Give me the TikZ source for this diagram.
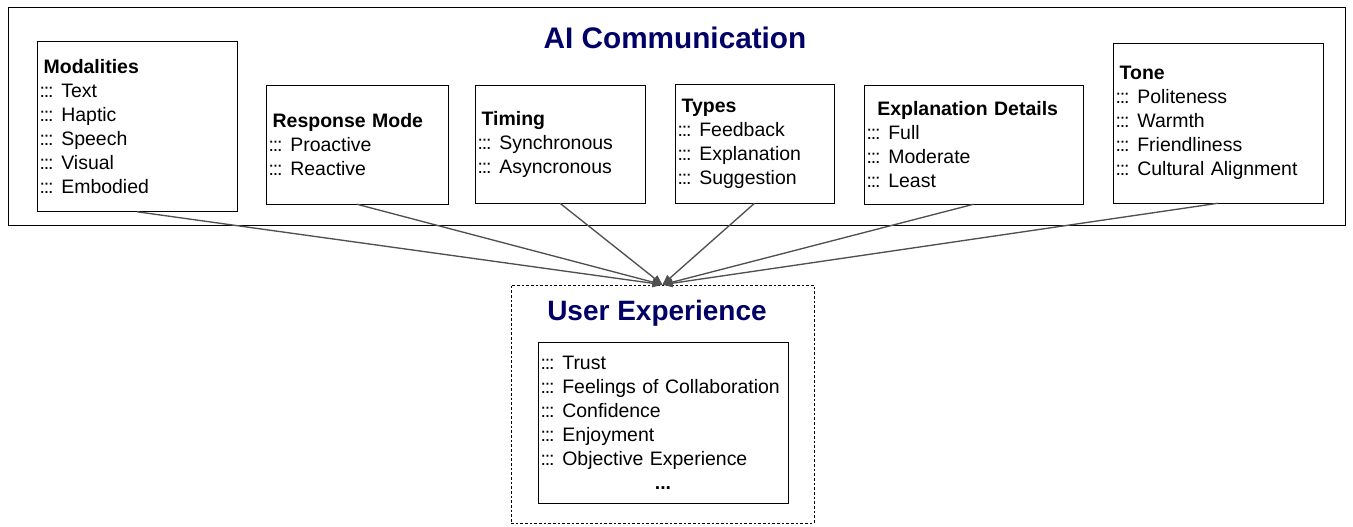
\documentclass[tikz,border=0pt]{standalone}
\usepackage{fontspec}
\setmainfont{Liberation Sans}
\usepackage{xcolor}
\usetikzlibrary{arrows.meta,positioning}

\definecolor{titlenavy}{RGB}{0,0,102}
\definecolor{linkgray}{RGB}{80,80,80}
\newcommand{\itm}{:\kern-0.9pt:\kern-0.9pt:\kern1pt\ }

\begin{document}
\begin{tikzpicture}[
  x=0.75pt, y=-0.75pt,
  catbox/.style={rectangle, draw, inner xsep=2pt, inner ysep=0pt, align=left,
    font=\fontsize{14.6}{18}\selectfont},
  title/.style={font=\fontsize{21}{24}\selectfont\bfseries, text=titlenavy},
  arrow/.style={-{Triangle[length=7.5pt,width=6pt]}, draw=linkgray, fill=linkgray, line width=1pt}
]
\useasboundingbox (0,0) rectangle (1353,527);

% AI communication frame
\node[draw, minimum width=1002.75pt, minimum height=163.5pt, inner sep=0pt] (aicomm) at (676.5,116) {};
\node[title, font=\fontsize{22.3}{24}\selectfont\bfseries] (aititle) at (675,38) {AI Communication};

% Categories
\node[catbox, text width=146pt, minimum height=127.5pt] (mod) at (137,126.5)
  {\hspace{3pt}\textbf{Modalities}\\\itm Text\\\itm Haptic\\\itm Speech\\\itm Visual\\\itm Embodied};
\node[catbox, text width=132.5pt, minimum height=89.25pt] (resp) at (357,144.5)
  {\hspace{3pt}\textbf{Response Mode}\\\itm Proactive\\\itm Reactive};
\node[catbox, text width=123.5pt, minimum height=88.5pt] (timing) at (560,144)
  {\hspace{3pt}\textbf{Timing}\\\itm Synchronous\\\itm Asyncronous};
\node[catbox, text width=115.25pt, minimum height=89.25pt] (types) at (754.5,143.5)
  {\hspace{3pt}\textbf{Types}\\\itm Feedback\\\itm Explanation\\\itm Suggestion};
\node[catbox, text width=160.25pt, minimum height=89.25pt] (expl) at (973.5,144.5)
  {\hspace{8pt}\textbf{Explanation Details}\\\itm Full\\\itm Moderate\\\itm Least};
\node[catbox, text width=153.5pt, minimum height=120pt] (tone) at (1218,123)
  {\hspace{3pt}\textbf{Tone}\\\itm Politeness\\\itm Warmth\\\itm Friendliness\\\itm Cultural Alignment};

% User experience
\node[draw, dashed, dash pattern=on 2pt off 1.5pt, line width=0.5pt, minimum width=227.25pt, minimum height=178.5pt, inner sep=0pt] (ux) at (662.5,404) {};
\node[title] (uxtitle) at (657,313) {User Experience};
\node[catbox, text width=183.5pt, minimum height=120.75pt] (uxlist) at (663,422.5)
  {\itm Trust\\\itm Feelings of Collaboration\\\itm Confidence\\\itm Enjoyment\\\itm Objective Experience\\
   \hbox to \hsize{\hfil\textbf{...}\hfil}};

% Links
\foreach \src in {mod,resp,timing,types,expl,tone}
  \draw[arrow] (\src.south) -- (ux.north);

\end{tikzpicture}
\end{document}
